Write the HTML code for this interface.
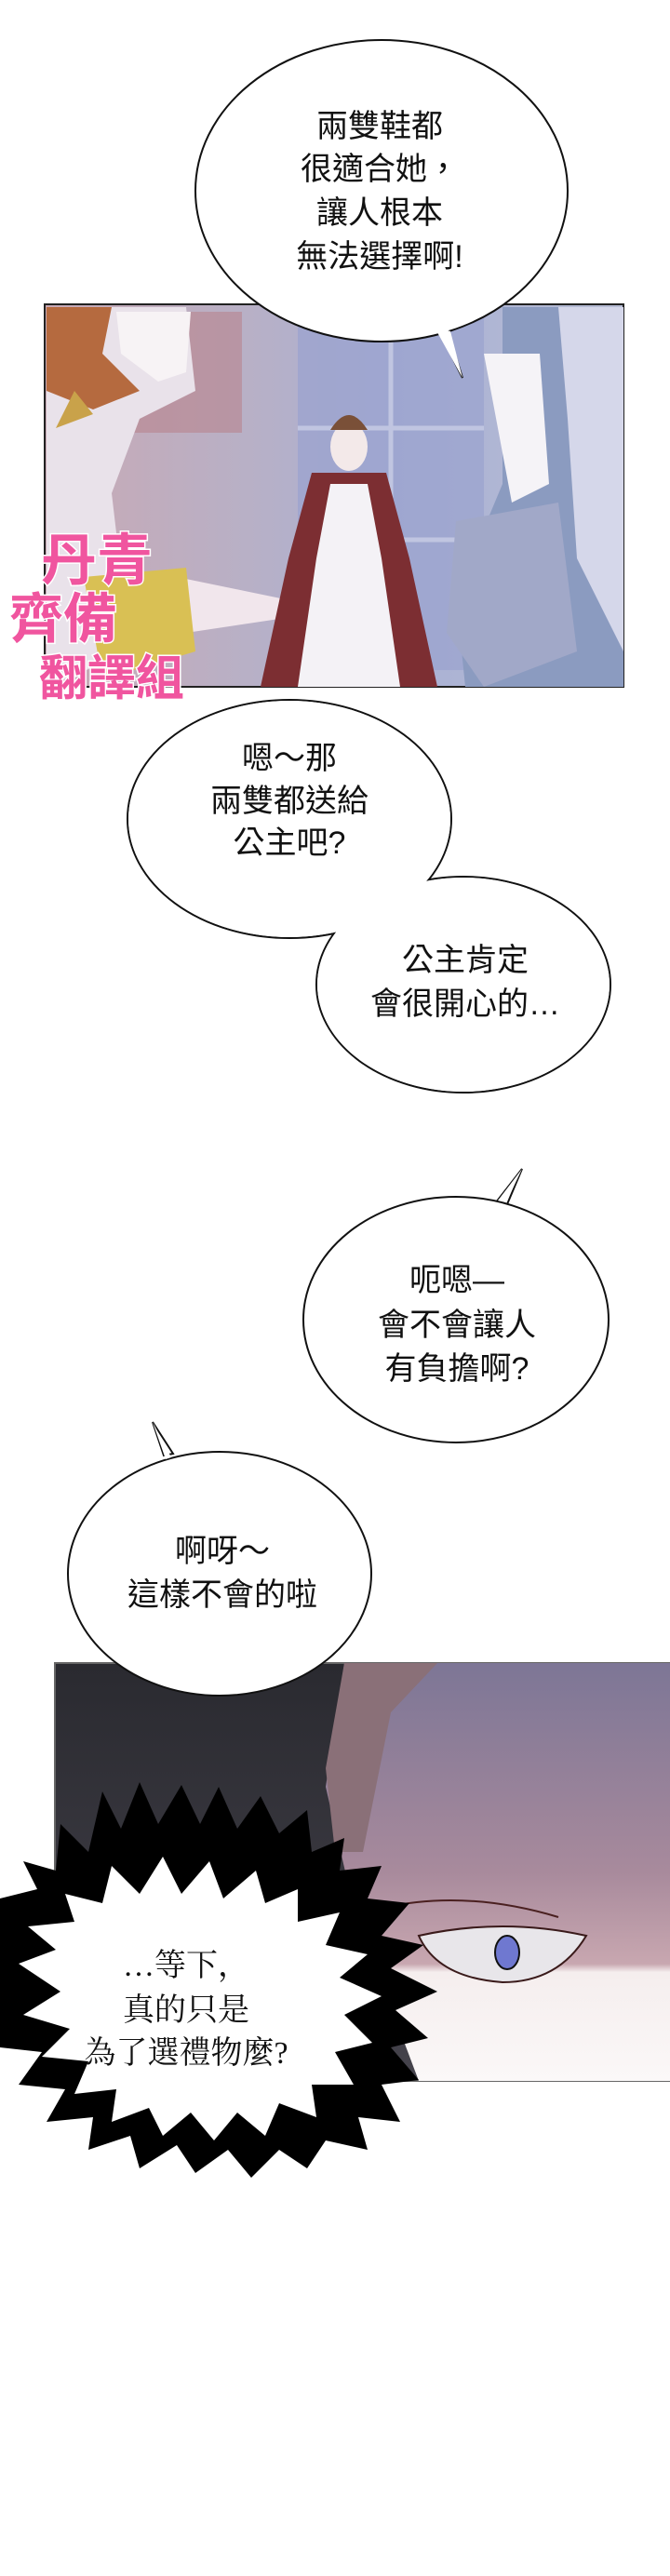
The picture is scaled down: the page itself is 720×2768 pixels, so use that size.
<!DOCTYPE html>
<html><head><meta charset="utf-8"><style>
html,body{margin:0;padding:0;background:#fff;}
svg{display:block;}
.t{font-family:"Liberation Sans","Noto Sans CJK TC",sans-serif;font-size:34px;fill:#111;text-anchor:middle;}
.s{font-family:"Liberation Serif","Noto Serif CJK SC",serif;font-size:34px;fill:#111;text-anchor:middle;}
.w{font-family:"Liberation Sans","Noto Sans CJK TC",sans-serif;font-size:60px;fill:#f0559f;stroke:#fff;stroke-width:3;paint-order:stroke;font-weight:bold;}
</style></head><body>
<svg width="720" height="2768" viewBox="0 0 720 2768" xmlns="http://www.w3.org/2000/svg">
<defs>
<linearGradient id="bg1" x1="0" y1="0" x2="1" y2="0">
<stop offset="0" stop-color="#c9a9b4"/><stop offset="0.35" stop-color="#b8b0c6"/><stop offset="0.6" stop-color="#a9b0d4"/><stop offset="1" stop-color="#b7bdd4"/></linearGradient>
<linearGradient id="pk" x1="0" y1="0" x2="0" y2="1">
<stop offset="0" stop-color="#7d7696"/><stop offset="0.5" stop-color="#a88a9c"/><stop offset="0.72" stop-color="#c8a7b0"/><stop offset="0.74" stop-color="#f5eeee"/><stop offset="1" stop-color="#fbf8f8"/></linearGradient>
<linearGradient id="dk" x1="0" y1="0" x2="0" y2="1"><stop offset="0" stop-color="#2a2a30"/><stop offset="1" stop-color="#45434c"/></linearGradient>
</defs>
<rect width="720" height="2768" fill="#fff"/>
<!-- Panel 1 -->
<rect x="48" y="327" width="622" height="411" fill="url(#bg1)" stroke="#222" stroke-width="2"/>
<rect x="320" y="340" width="200" height="380" fill="#9aa3cf" opacity="0.7"/>
<g stroke="#c9cde6" stroke-width="5" opacity="0.8"><line x1="420" y1="340" x2="420" y2="720"/><line x1="320" y1="460" x2="520" y2="460"/><line x1="320" y1="580" x2="520" y2="580"/></g>
<rect x="110" y="335" width="150" height="130" fill="#b7848d" opacity="0.6"/>
<path d="M50 330 L200 330 L210 420 L150 450 L120 530 L140 700 L50 738 Z" fill="#e9e2ea"/>
<path d="M50 330 L120 330 L110 380 L150 420 L100 440 L50 420 Z" fill="#b56a3f"/>
<path d="M125 335 L205 335 L200 400 L170 410 L130 380 Z" fill="#f7f3f5"/>
<path d="M80 420 L100 445 L60 460 Z" fill="#c9a24a"/>
<path d="M190 620 L360 655 L300 665 L200 680 Z" fill="#f1e6ec"/>
<path d="M90 620 L200 610 L210 700 L110 730 Z" fill="#d9c054"/>
<ellipse cx="375" cy="480" rx="20" ry="26" fill="#f3e9e9"/>
<path d="M355 462 Q375 430 395 462 Z" fill="#7a5038"/>
<path d="M335 508 L415 508 L440 600 L470 738 L280 738 L310 600 Z" fill="#7c2e32"/>
<path d="M355 520 L395 520 L410 600 L430 738 L320 738 L340 600 Z" fill="#f4f2f6"/>
<path d="M540 330 L670 330 L670 738 L500 738 L490 640 L540 520 Z" fill="#8b9bc0"/>
<path d="M600 330 L670 330 L670 700 L620 600 L610 450 Z" fill="#d5d7ea"/>
<path d="M520 380 L580 380 L590 520 L550 540 Z" fill="#f5f3f7"/>
<path d="M490 560 L600 540 L620 700 L520 738 L480 680 Z" fill="#a1a8c8"/>
<text class="w" x="44" y="623">丹青</text>
<text class="w" x="10" y="685" style="font-size:58px">齊備</text>
<text class="w" x="42" y="747" style="font-size:52px">翻譯組</text>
<!-- bubble 1 -->
<path d="M470 352 L497 406 L482 358 Z" fill="#fff" stroke="#111" stroke-width="2"/>
<ellipse cx="410" cy="205" rx="200" ry="162" fill="#fff" stroke="#111" stroke-width="2"/>
<path d="M466 350 L497 406 L484 356" fill="#fff" stroke="none"/>
<g class="t"><text x="408" y="147">兩雙鞋都</text><text x="408" y="193">很適合她，</text><text x="408" y="240">讓人根本</text><text x="408" y="287">無法選擇啊!</text></g>
<!-- bubble A & B merged -->
<ellipse cx="311" cy="880" rx="174" ry="128" fill="#fff" stroke="#111" stroke-width="2"/>
<ellipse cx="498" cy="1058" rx="158" ry="116" fill="#fff" stroke="#111" stroke-width="2"/>
<ellipse cx="311" cy="880" rx="173" ry="127" fill="#fff"/>
<ellipse cx="498" cy="1058" rx="157" ry="115" fill="#fff"/>
<g class="t"><text x="311" y="826">嗯～那</text><text x="311" y="872">兩雙都送給</text><text x="311" y="917">公主吧?</text>
<text x="500" y="1043">公主肯定</text><text x="500" y="1090">會很開心的…</text></g>
<!-- bubble C -->
<path d="M533 1292 L561 1256 L545 1294 Z" fill="#fff" stroke="#111" stroke-width="2"/>
<ellipse cx="490" cy="1418" rx="164" ry="132" fill="#fff" stroke="#111" stroke-width="2"/>
<path d="M535 1290 L561 1256 L544 1292 Z" fill="#fff"/>
<g class="t"><text x="491" y="1387">呃嗯—</text><text x="491" y="1435">會不會讓人</text><text x="491" y="1482">有負擔啊?</text></g>
<!-- Panel 2 -->
<rect x="59" y="1787" width="661" height="449" fill="url(#dk)" stroke="#666" stroke-width="2"/>
<path d="M370 1787 L720 1787 L720 2236 L450 2236 L380 2050 L350 1920 Z" fill="url(#pk)"/>
<path d="M370 1787 L470 1787 L420 1840 L390 1990 L360 1990 L350 1900 Z" fill="#8a7078"/>
<path d="M450 2080 Q540 2060 630 2080 Q600 2130 540 2130 Q470 2125 450 2080 Z" fill="#e8e6ea" stroke="#3a1a1a" stroke-width="2"/>
<ellipse cx="545" cy="2098" rx="13" ry="18" fill="#6f78d0" stroke="#111" stroke-width="2"/>
<path d="M412 2050 Q500 2030 600 2060" fill="none" stroke="#4a2020" stroke-width="2"/>
<!-- bubble D -->
<path d="M186 1562 L164 1528 L176 1564 Z" fill="#fff" stroke="#111" stroke-width="2"/>
<ellipse cx="236" cy="1691" rx="163" ry="131" fill="#fff" stroke="#111" stroke-width="2"/>
<path d="M184 1566 L164 1528 L178 1568 Z" fill="#fff"/>
<g class="t"><text x="239" y="1678">啊呀～</text><text x="239" y="1725">這樣不會的啦</text></g>
<!-- burst -->
<path d="M0 2040 L40 2030 L25 2000 L60 2010 L65 1960 L95 1990 L110 1925 L130 1965 L150 1915 L170 1960 L195 1918 L215 1960 L235 1920 L255 1965 L280 1930 L300 1970 L330 1945 L335 1990 L370 1975 L365 2010 L410 2005 L395 2040 L440 2045 L410 2080 L455 2090 L420 2115 L470 2140 L425 2160 L460 2190 L420 2200 L450 2235 L410 2240 L430 2280 L385 2275 L395 2310 L350 2300 L330 2330 L300 2310 L270 2340 L245 2310 L210 2335 L190 2305 L150 2330 L140 2295 L95 2310 L100 2275 L50 2280 L70 2245 L20 2240 L45 2205 L0 2200 Z" fill="#000"/>
<path d="M30 2070 L80 2065 L70 2035 L110 2045 L120 2005 L150 2035 L175 1995 L195 2035 L225 2000 L240 2040 L275 2010 L285 2045 L320 2030 L320 2065 L365 2055 L350 2090 L395 2100 L365 2125 L410 2145 L370 2165 L400 2195 L360 2205 L380 2240 L335 2240 L340 2275 L300 2260 L285 2295 L255 2270 L230 2300 L205 2270 L175 2295 L160 2265 L120 2280 L125 2245 L80 2250 L95 2215 L45 2210 L75 2180 L25 2165 L65 2140 L20 2110 L60 2095 Z" fill="#fff"/>
<g class="s"><text x="200" y="2123">…等下，</text><text x="200" y="2171">真的只是</text><text x="200" y="2217">為了選禮物麼?</text></g>
</svg>
</body></html>
